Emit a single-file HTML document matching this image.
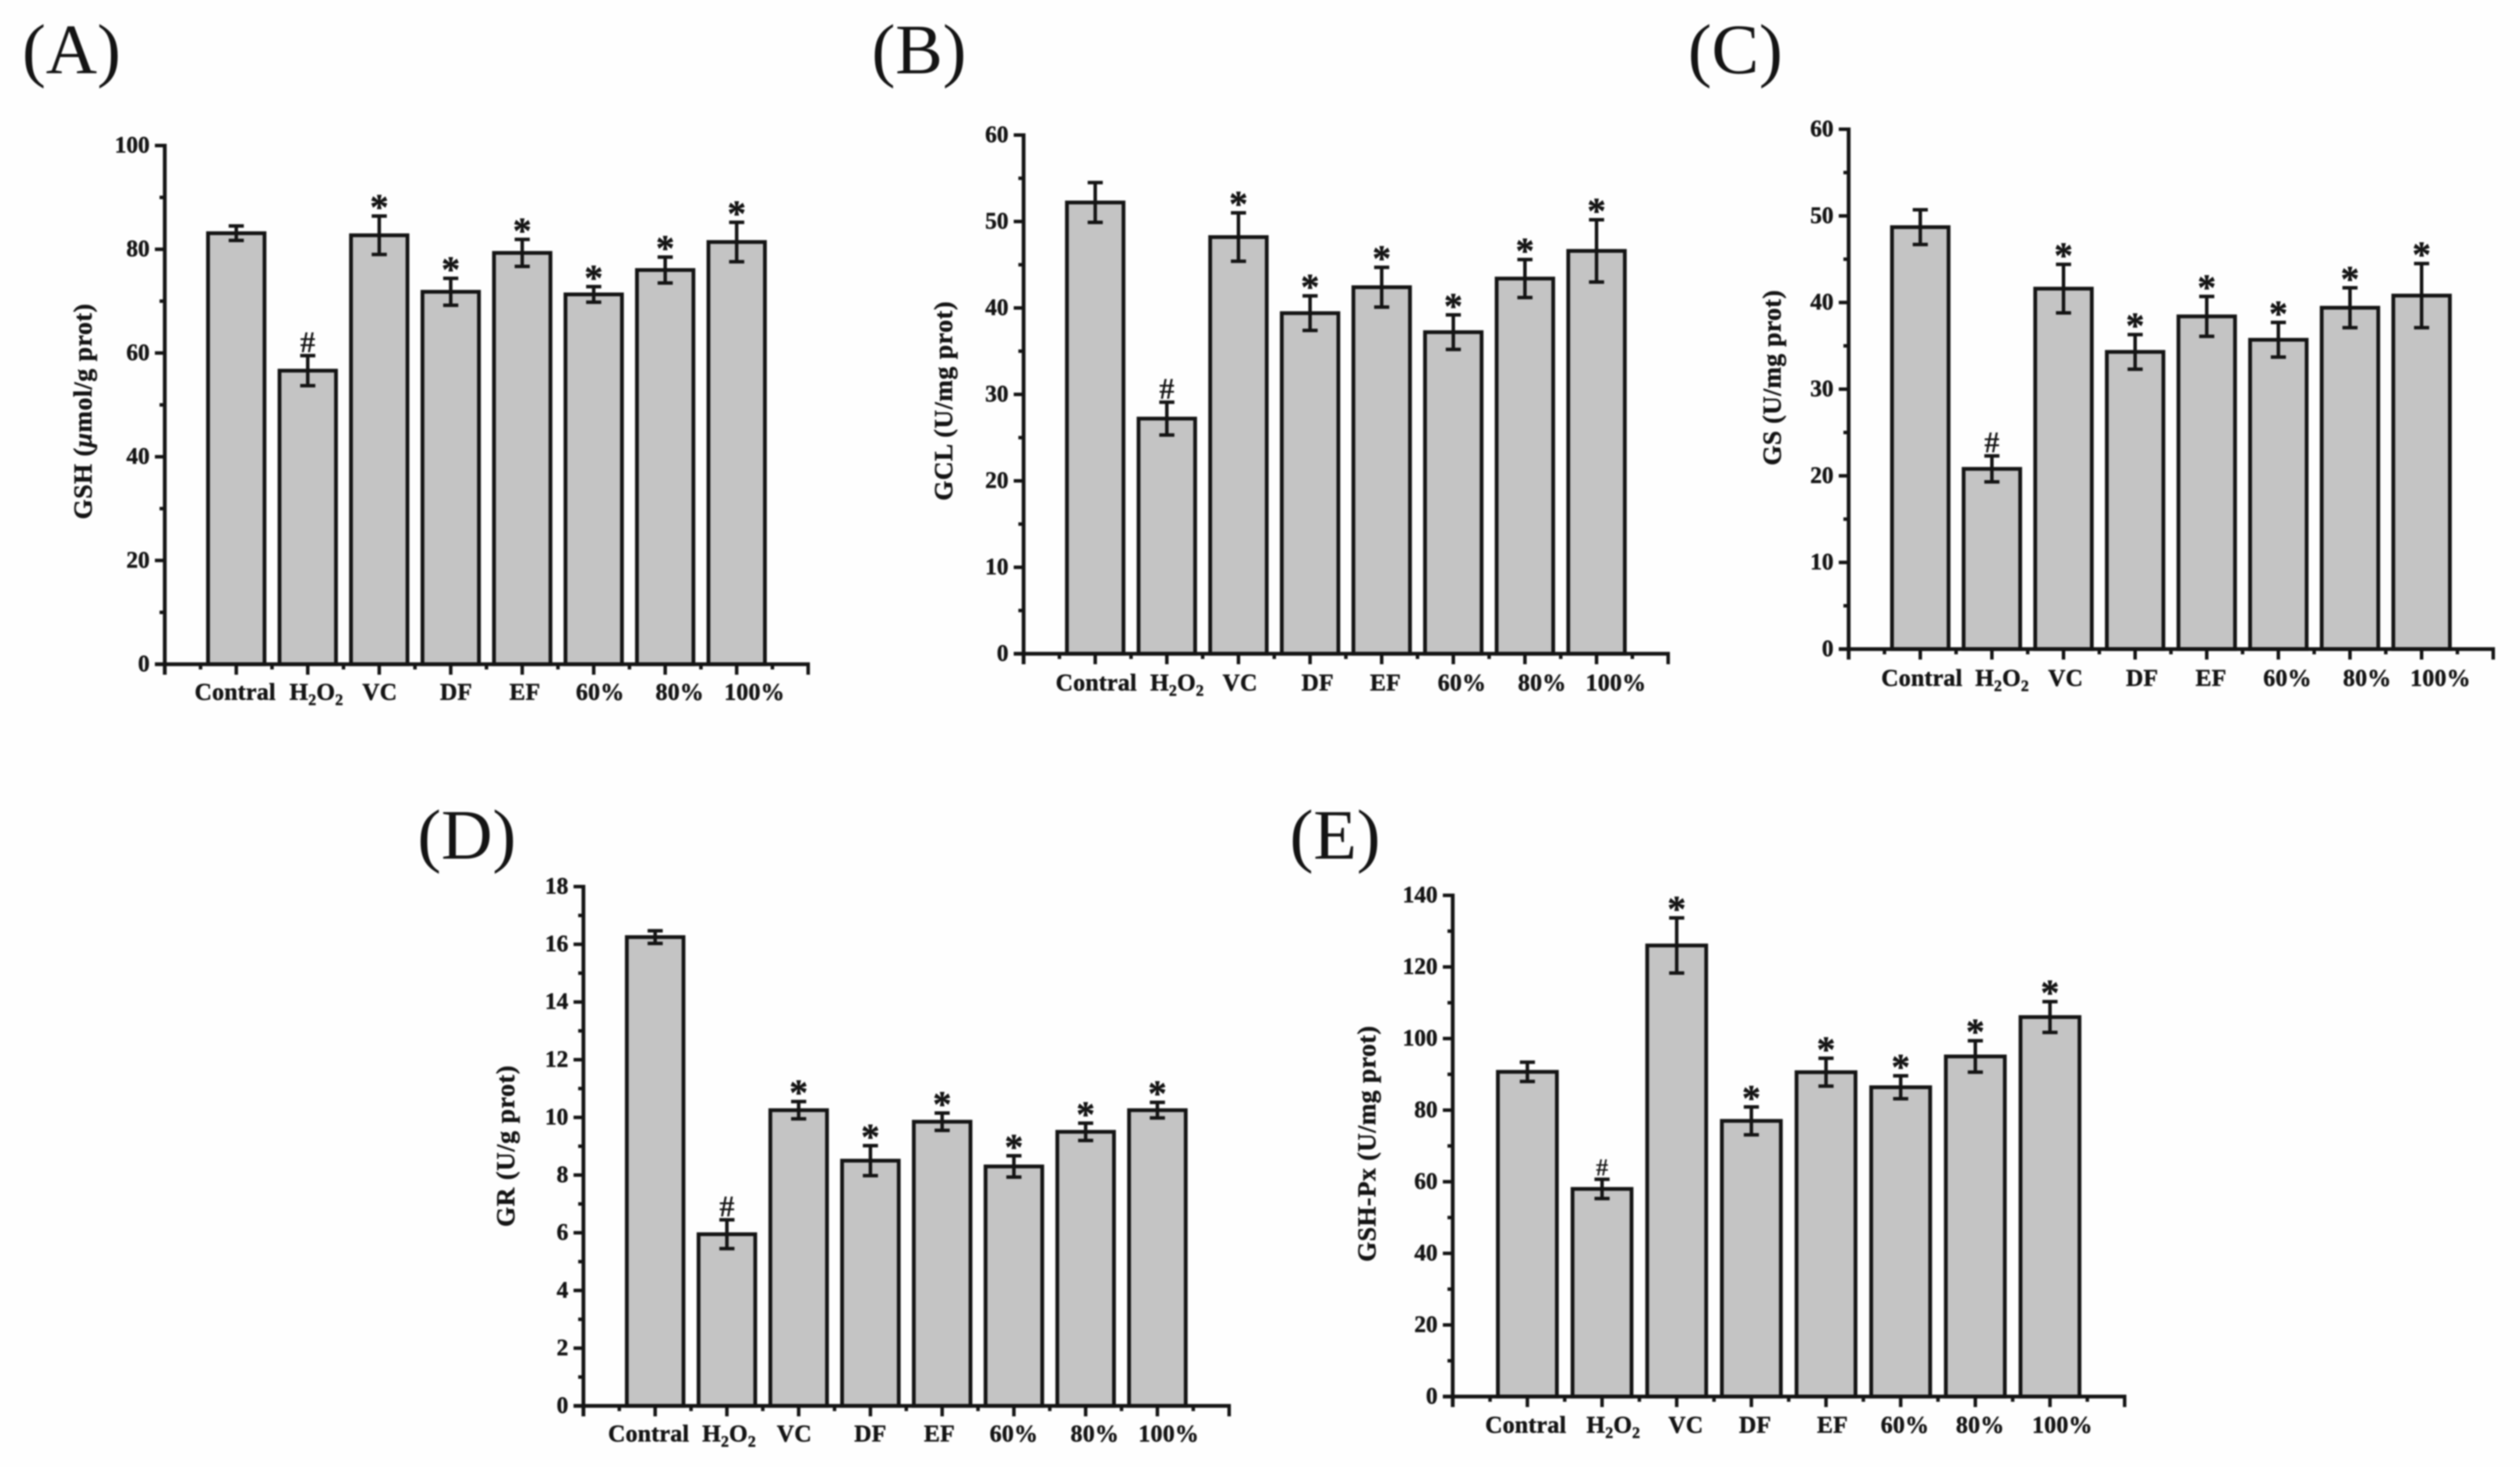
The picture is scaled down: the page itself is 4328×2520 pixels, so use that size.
<!DOCTYPE html>
<html lang="en">
<head>
<meta charset="utf-8">
<title>Glutathione assay bar charts</title>
<style>
  html, body { margin: 0; padding: 0; background: #fefefe; }
  body { width: 4328px; height: 2520px; overflow: hidden; }
  svg { display: block; }
  text { font-family: "Liberation Serif", serif; fill: #141414; }
  .bold { font-weight: 700; stroke: #141414; stroke-width: 0.7; }
  .hash { font-weight: 700; }
  #figure-content { filter: blur(1.4px); }
</style>
</head>
<body>
<svg id="figure" xmlns="http://www.w3.org/2000/svg" width="4328" height="2520" viewBox="0 0 4328 2520">
  <rect x="0" y="0" width="4328" height="2520" fill="#fefefe"></rect>
  <g id="figure-content"></g>
</svg>
<script>
// ---- shared chart data ----
const categories = ['Contral', 'H2O2', 'VC', 'DF', 'EF', '60%', '80%', '100%'];
const sigMarks = ['', '#', '*', '*', '*', '*', '*', '*'];

// ---- panel A: GSH ----
const gshValues = [83.1, 56.6, 82.7, 71.8, 79.3, 71.3, 76.0, 81.4];
const gshErrors = [1.4, 2.9, 3.7, 2.6, 2.6, 1.5, 2.5, 3.8];
const gshTicks = [0, 20, 40, 60, 80, 100];

// ---- panel B: GCL ----
const gclValues = [52.2, 27.2, 48.2, 39.4, 42.4, 37.2, 43.4, 46.6];
const gclErrors = [2.3, 1.9, 2.8, 2.0, 2.3, 2.0, 2.2, 3.6];
const gclTicks = [0, 10, 20, 30, 40, 50, 60];

// ---- panel C: GS ----
const gsValues = [48.7, 20.8, 41.6, 34.3, 38.4, 35.7, 39.4, 40.8];
const gsErrors = [2.0, 1.5, 2.8, 2.0, 2.3, 2.0, 2.3, 3.7];
const gsTicks = [0, 10, 20, 30, 40, 50, 60];

// ---- panel D: GR ----
const grValues = [16.25, 5.95, 10.25, 8.5, 9.85, 8.3, 9.5, 10.25];
const grErrors = [0.22, 0.5, 0.3, 0.52, 0.3, 0.37, 0.3, 0.27];
const grTicks = [0, 2, 4, 6, 8, 10, 12, 14, 16, 18];

// ---- panel E: GSH-Px ----
const gpxValues = [90.7, 58, 126, 77, 90.6, 86.4, 95, 106];
const gpxErrors = [2.7, 2.7, 7.7, 3.9, 3.9, 3.2, 4.4, 4.3];
const gpxTicks = [0, 20, 40, 60, 80, 100, 120, 140];

const SVG_NS = 'http://www.w3.org/2000/svg';
const INK = '#141414';
const root = document.getElementById('figure-content');

function mk(tag, attrs, parent) {
  const node = document.createElementNS(SVG_NS, tag);
  Object.keys(attrs).forEach(function (k) { node.setAttribute(k, attrs[k]); });
  parent.appendChild(node);
  return node;
}

function drawPanel(cfg) {
  const panel = mk('g', {}, root);
  
  

  const maxTick = cfg.ticks[cfg.ticks.length - 1];
  const yScale = function (v) { return cfg.base - (v / maxTick) * (cfg.base - cfg.top); };
  const step = (cfg.right - cfg.axisX) / (categories.length + 1);
  const xScale = function (i) { return cfg.axisX + step * (i + 1); };
  const barWidth = step * 0.79;
  const capHalf = 13;

  // panel letter
  const letter = mk('text', { x: cfg.letterX, y: cfg.letterY, 'font-size': 122 }, panel);
  letter.textContent = '(' + cfg.letter + ')';
  
  

  // bars
  categories.forEach(function (cat, i) {
    const value = cfg.values[i];
    const bar = mk('rect', {
      x: xScale(i) - barWidth / 2,
      y: yScale(value),
      width: barWidth,
      height: cfg.base - yScale(value),
      fill: '#c4c4c4',
      stroke: INK,
      'stroke-width': 6.5
    }, panel);
    
    
  });

  // error bars and significance marks
  categories.forEach(function (cat, i) {
    const cx = xScale(i);
    const hi = yScale(cfg.values[i] + cfg.errors[i]);
    const lo = yScale(cfg.values[i] - cfg.errors[i]);
    const err = mk('path', {
      d: 'M' + cx + ' ' + hi + 'V' + lo +
         'M' + (cx - capHalf) + ' ' + hi + 'H' + (cx + capHalf) +
         'M' + (cx - capHalf) + ' ' + lo + 'H' + (cx + capHalf),
      fill: 'none',
      stroke: INK,
      'stroke-width': 6
    }, panel);
    
    

    if (sigMarks[i]) {
      const isHash = sigMarks[i] === '#';
      const mark = mk('text', {
        x: cx,
        y: isHash ? hi - 6 : hi + 6,
        'text-anchor': 'middle',
        'font-size': isHash ? cfg.hashSize : 64,
        class: isHash ? 'hash' : 'bold'
      }, panel);
      mark.textContent = sigMarks[i];
      
      
    }
  });

  // axis lines
  const yAxis = mk('line', { x1: cfg.axisX, x2: cfg.axisX, y1: cfg.top - 3, y2: cfg.base + 18, stroke: INK, 'stroke-width': 6.5 }, panel);
  
  
  const xAxis = mk('line', { x1: cfg.axisX - 17, x2: cfg.right + 3, y1: cfg.base, y2: cfg.base, stroke: INK, 'stroke-width': 6.5 }, panel);
  
  

  // y ticks
  cfg.ticks.forEach(function (t, i) {
    const y = yScale(t);
    const tick = mk('line', { x1: cfg.axisX - 17, x2: cfg.axisX, y1: y, y2: y, stroke: INK, 'stroke-width': 6 }, panel);
    
    
    const label = mk('text', {
      x: cfg.axisX - 26,
      y: y + 12,
      'text-anchor': 'end',
      'font-size': 40,
      class: 'bold'
    }, panel);
    label.textContent = String(t);
    
    
    if (i < cfg.ticks.length - 1) {
      const my = yScale((t + cfg.ticks[i + 1]) / 2);
      const minor = mk('line', { x1: cfg.axisX - 9, x2: cfg.axisX, y1: my, y2: my, stroke: INK, 'stroke-width': 6 }, panel);
      
      
    }
  });

  // x ticks (category positions plus both axis ends, with minor ticks between)
  for (let i = -1; i <= categories.length; i++) {
    const x = xScale(i);
    const tick = mk('line', { x1: x, x2: x, y1: cfg.base, y2: cfg.base + 18, stroke: INK, 'stroke-width': 6 }, panel);
    
    
    if (i < categories.length) {
      const mx = x + step / 2;
      const minor = mk('line', { x1: mx, x2: mx, y1: cfg.base, y2: cfg.base + 9, stroke: INK, 'stroke-width': 6 }, panel);
      
      
    }
  }

  // x category labels
  categories.forEach(function (cat, i) {
    const label = mk('text', {
      x: xScale(i) + cfg.labelNudge[i] * 0.925,
      y: cfg.base + cfg.labelDrop,
      'text-anchor': 'middle',
      'font-size': 41,
      'letter-spacing': 0.4,
      class: 'bold'
    }, panel);
    if (cat === 'H2O2') {
      label.appendChild(document.createTextNode('H'));
      mk('tspan', { dy: 9, 'font-size': 27 }, label).textContent = '2';
      mk('tspan', { dy: -9 }, label).textContent = 'O';
      mk('tspan', { dy: 9, 'font-size': 27 }, label).textContent = '2';
    } else {
      label.textContent = cat;
    }
    
    
  });

  // y axis title
  const title = mk('text', {
    transform: 'translate(' + cfg.titleX + ' ' + cfg.titleY + ') rotate(-90)',
    'text-anchor': 'middle',
    'font-size': 44,
    textLength: cfg.titleLen,
    class: 'bold'
  }, panel);
  cfg.title.forEach(function (part) {
    const span = mk('tspan', part.italic ? { 'font-style': 'italic' } : {}, title);
    span.textContent = part.text;
  });
  
  
}

drawPanel({
  key: 'a', letter: 'A', letterX: 38, letterY: 126,
  values: gshValues, errors: gshErrors, ticks: gshTicks,
  axisX: 283, right: 1388, top: 250, base: 1141, labelDrop: 61, hashSize: 52,
  labelNudge: [-2, 16, 1, 10, 5, 12, 27, 33],
  title: [{ text: 'GSH (' }, { text: 'μ', italic: true }, { text: 'mol/g prot)' }],
  titleX: 157, titleY: 707, titleLen: 370
});
drawPanel({
  key: 'b', letter: 'B', letterX: 1497, letterY: 126,
  values: gclValues, errors: gclErrors, ticks: gclTicks,
  axisX: 1758, right: 2865, top: 232, base: 1123, labelDrop: 63, hashSize: 52,
  labelNudge: [2, 19, 3, 14, 7, 16, 32, 36],
  title: [{ text: 'GCL (U/mg prot)' }],
  titleX: 1635, titleY: 689, titleLen: 342
});
drawPanel({
  key: 'c', letter: 'C', letterX: 2899, letterY: 126,
  values: gsValues, errors: gsErrors, ticks: gsTicks,
  axisX: 3175, right: 4282, top: 222, base: 1115, labelDrop: 63, hashSize: 52,
  labelNudge: [3, 19, 4, 13, 8, 17, 32, 35],
  title: [{ text: 'GS (U/mg prot)' }],
  titleX: 3058, titleY: 649, titleLen: 301
});
drawPanel({
  key: 'd', letter: 'D', letterX: 717, letterY: 1475,
  values: grValues, errors: grErrors, ticks: grTicks,
  axisX: 1002, right: 2111, top: 1523, base: 2415, labelDrop: 61, hashSize: 52,
  labelNudge: [-12, 4, -8, 0, -5, 0, 17, 21],
  title: [{ text: 'GR (U/g prot)' }],
  titleX: 883, titleY: 1969, titleLen: 277
});
drawPanel({
  key: 'e', letter: 'E', letterX: 2215, letterY: 1475,
  values: gpxValues, errors: gpxErrors, ticks: gpxTicks,
  axisX: 2495, right: 3649, top: 1538, base: 2399, labelDrop: 62, hashSize: 42,
  labelNudge: [-3, 21, 17, 7, 12, 8, 9, 23],
  title: [{ text: 'GSH-Px (U/mg prot)' }],
  titleX: 2362, titleY: 1965, titleLen: 405
});
</script>
</body>
</html>
